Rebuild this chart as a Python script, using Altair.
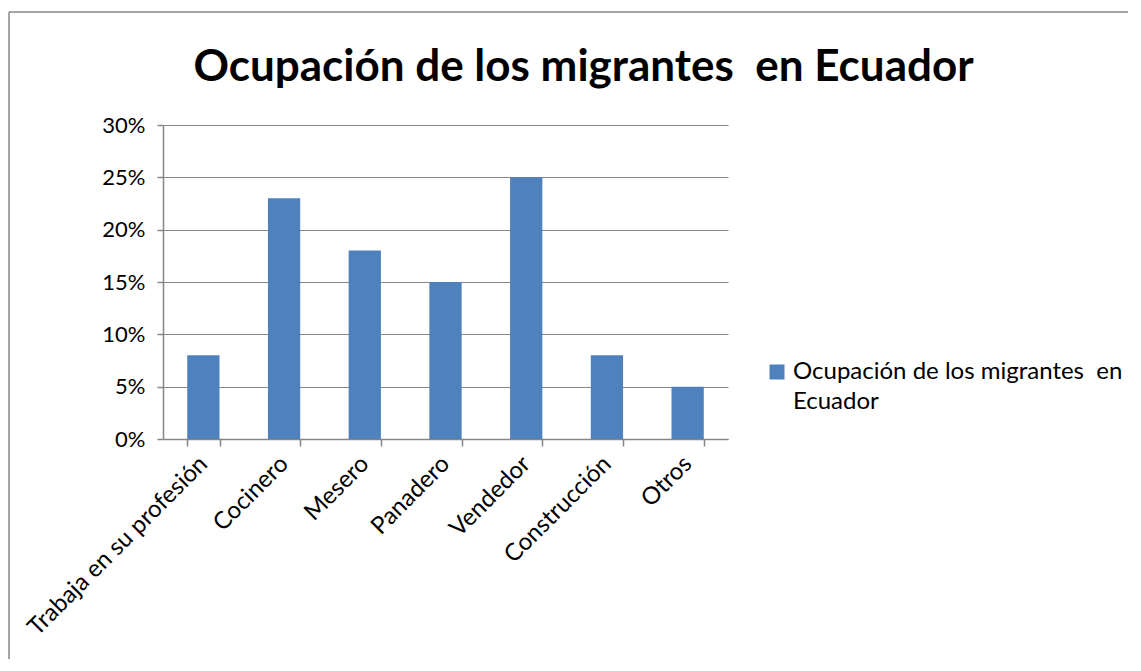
import altair as alt
import pandas as pd

categories = ["Trabaja en su profesión", "Cocinero", "Mesero", "Panadero",
              "Vendedor", "Construcción", "Otros"]
values = [0.08, 0.23, 0.18, 0.15, 0.25, 0.08, 0.05]
series_name = "Ocupación de los migrantes  en Ecuador"
legend_lines = ["Ocupación de los migrantes\u00a0 en", "Ecuador"]
title_text = "Ocupación de los migrantes\u00a0 en Ecuador"

df = pd.DataFrame({"cat": categories, "val": values, "serie": [series_name] * len(categories)})

FONT = "Lato"
GRID = "#868686"

label_expr = "[" + ", ".join("'" + s + "'" for s in legend_lines) + "]"

bars = alt.Chart(df).mark_bar(color="#4F81BD").encode(
    x=alt.X("cat:N", sort=categories, title=None,
            scale=alt.Scale(paddingInner=0.6, paddingOuter=0.3),
            axis=alt.Axis(labelAngle=-45, labelAlign="right", labelBaseline="middle",
                          labelFontSize=24, labelFont=FONT, labelColor="#000000",
                          labelLimit=400,
                          tickBand="extent", tickSize=7, tickColor=GRID, tickWidth=1.5,
                          domainColor=GRID, domainWidth=1.5, labelPadding=14,
                          grid=False)),
    y=alt.Y("val:Q", title=None,
            scale=alt.Scale(domain=[0, 0.30]),
            axis=alt.Axis(format=".0%", values=[0, 0.05, 0.10, 0.15, 0.20, 0.25, 0.30],
                          labelFontSize=22, labelFont=FONT, labelColor="#000000",
                          tickSize=6, tickColor=GRID, tickWidth=1.5, labelPadding=12,
                          domainColor=GRID, domainWidth=1.5,
                          grid=True, gridColor=GRID, gridWidth=1.2)),
    color=alt.Color("serie:N", title=None,
                    scale=alt.Scale(range=["#4F81BD"]),
                    legend=alt.Legend(orient="none", legendX=602, legendY=235,
                                      symbolType="square", symbolSize=225,
                                      symbolStrokeWidth=0, symbolOpacity=1,
                                      labelFontSize=24, labelFont=FONT, labelColor="#000000",
                                      labelLimit=400, labelOffset=4,
                                      labelExpr=label_expr)),
)

frame_df = pd.DataFrame({"k": [0]})
top_line = alt.Chart(frame_df).mark_rule(color="#878787", strokeWidth=1.5).encode(
    x=alt.value(-154), x2=alt.value(990), y=alt.value(-113))
left_line = alt.Chart(frame_df).mark_rule(color="#878787", strokeWidth=1.5).encode(
    x=alt.value(-154), y=alt.value(-113), y2=alt.value(560))

chart = alt.layer(bars, top_line, left_line).properties(
    width=565, height=314,
    autosize=alt.AutoSizeParams(type="none"),
    padding={"left": 155, "top": 117, "right": 400, "bottom": 220},
    title=alt.TitleParams(title_text, font=FONT, fontSize=44, fontWeight="bold",
                          color="#000000", anchor="middle", dx=138, dy=144, offset=30,
                          baseline="alphabetic"),
).configure(style={"guide-label": {"lineHeight": 30}}).configure_view(stroke=None)

chart.save("out.html", embed_options={"renderer": "svg", "actions": False})
